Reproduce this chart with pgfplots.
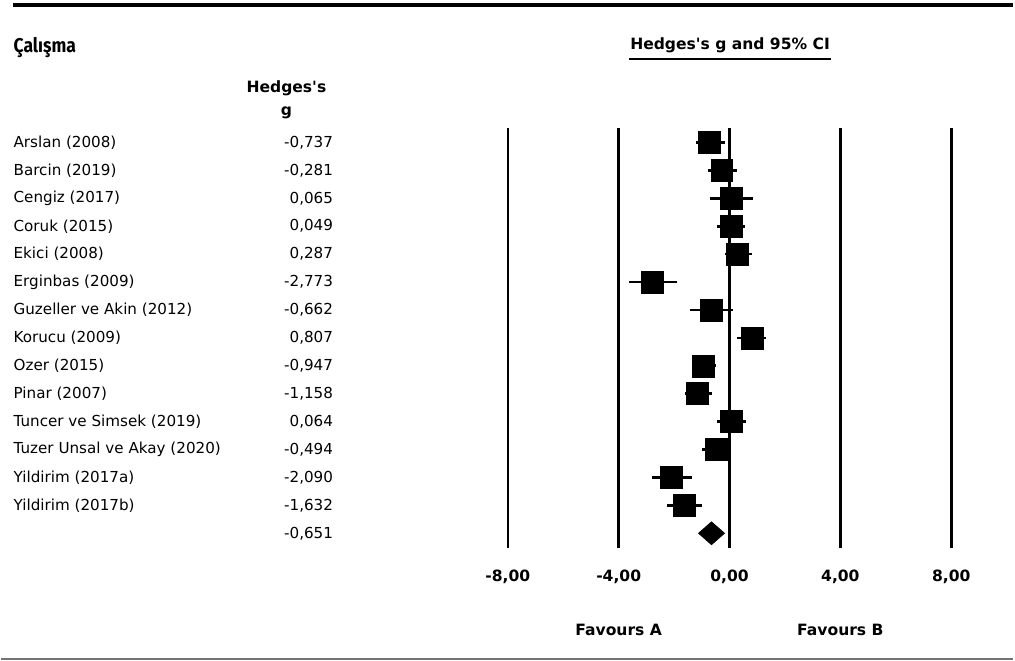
\documentclass[border=0pt]{standalone}
\usepackage{fontspec}
\setmainfont{DejaVu Sans}[Ligatures=TeXOff]
\newfontfamily\condfont[FakeStretch=0.88]{Fira Sans}
\usepackage{pgfplots}
\pgfplotsset{compat=1.18}
\usepackage{pgfplotstable}

\pgfplotstableread{
r g lo hi
1 -0.737 -1.20 -0.16
2 -0.281 -0.78 0.27
3 0.065 -0.70 0.84
4 0.049 -0.45 0.55
5 0.287 -0.16 0.81
6 -2.773 -3.61 -1.89
7 -0.662 -1.42 0.12
8 0.807 0.27 1.31
9 -0.947 -1.30 -0.49
10 -1.158 -1.60 -0.63
11 0.064 -0.45 0.59
12 -0.494 -0.99 -0.02
13 -2.090 -2.79 -1.35
14 -1.632 -2.25 -0.99
}\studies

\newcommand\rfont{\fontsize{11.4}{13}\selectfont}
\newcommand\bfont{\fontsize{11.7}{14}\selectfont\bfseries}

\begin{document}
\begin{tikzpicture}
\begin{axis}[
  x=20.85pt, y=21pt,
  xmin=-8, xmax=8, ymin=-15.54, ymax=-0.464,
  axis line style={draw=none}, clip=false,
  xtick={-8,-4,0,4,8},
  xticklabels={{-8,00},{-4,00},{0,00},{4,00},{8,00}},
  ytick=\empty,
  major tick length=0pt,
  xmajorgrids, grid style={black, line width=2pt},
  xticklabel style={anchor=center, yshift=-21.5pt, font=\bfont},
]
% confidence intervals
\addplot[black, only marks, mark=none,
  error bars/.cd, x dir=both, x explicit, error mark=none,
  error bar style={line width=2pt, black}]
  table[x=g, y expr=-\thisrow{r},
        x error plus expr=\thisrow{hi}-\thisrow{g},
        x error minus expr=\thisrow{g}-\thisrow{lo}] {\studies};
% point estimates
\addplot[black, only marks, mark=square*, mark size=8.25pt]
  table[x=g, y expr=-\thisrow{r}] {\studies};
% summary diamond
\addplot[black, fill=black, line width=0.5pt] coordinates
  {(-1.12,-15) (-0.651,-14.59) (-0.18,-15) (-0.651,-15.41)} -- cycle;

% study names
\begin{scope}[every node/.style={anchor=west, inner sep=0pt, font=\rfont}]
\node at (axis cs:-25.845,-1) {Arslan (2008)};
\node at (axis cs:-25.845,-2) {Barcin (2019)};
\node at (axis cs:-25.845,-3) {Cengiz (2017)};
\node at (axis cs:-25.845,-4) {Coruk (2015)};
\node at (axis cs:-25.845,-5) {Ekici (2008)};
\node at (axis cs:-25.845,-6) {Erginbas (2009)};
\node at (axis cs:-25.845,-7) {Guzeller ve Akin (2012)};
\node at (axis cs:-25.845,-8) {Korucu (2009)};
\node at (axis cs:-25.845,-9) {Ozer (2015)};
\node at (axis cs:-25.845,-10) {Pinar (2007)};
\node at (axis cs:-25.845,-11) {Tuncer ve Simsek (2019)};
\node at (axis cs:-25.845,-12) {Tuzer Unsal ve Akay (2020)};
\node at (axis cs:-25.845,-13) {Yildirim (2017a)};
\node at (axis cs:-25.845,-14) {Yildirim (2017b)};
\end{scope}
% values
\begin{scope}[every node/.style={anchor=east, inner sep=0pt, font=\rfont}]
\node at (axis cs:-14.30,-1) {-0,737};
\node at (axis cs:-14.30,-2) {-0,281};
\node at (axis cs:-14.30,-3) {0,065};
\node at (axis cs:-14.30,-4) {0,049};
\node at (axis cs:-14.30,-5) {0,287};
\node at (axis cs:-14.30,-6) {-2,773};
\node at (axis cs:-14.30,-7) {-0,662};
\node at (axis cs:-14.30,-8) {0,807};
\node at (axis cs:-14.30,-9) {-0,947};
\node at (axis cs:-14.30,-10) {-1,158};
\node at (axis cs:-14.30,-11) {0,064};
\node at (axis cs:-14.30,-12) {-0,494};
\node at (axis cs:-14.30,-13) {-2,090};
\node at (axis cs:-14.30,-14) {-1,632};
\node at (axis cs:-14.30,-15) {-0,651};
\end{scope}
% headers
\node[anchor=west, inner sep=0pt, font={\condfont\fontsize{15}{18}\selectfont\bfseries}] at (axis cs:-25.845,2.40) {Çalışma};
\node[inner sep=0pt, font=\bfont] at (axis cs:-15.99,0.93) {Hedges's};
\node[inner sep=0pt, font=\bfont] at (axis cs:-15.99,0.05) {g};
\node[inner sep=0pt, font=\bfont] at (axis cs:0.018,2.47) {Hedges's g and 95\% CI};
\draw[black, line width=1.2pt] (axis cs:-3.615,2.0) -- (axis cs:3.65,2.0);
\node[inner sep=0pt, font=\bfont] at (axis cs:-4,-18.45) {Favours A};
\node[inner sep=0pt, font=\bfont] at (axis cs:4,-18.45) {Favours B};
% rules
\draw[black, line width=3pt] (axis cs:-25.845,3.929) -- (axis cs:10.23,3.929);
\draw[black!55, line width=2pt] (axis cs:-26.28,-19.5) -- (axis cs:10.23,-19.5);
\coordinate (tl) at (axis cs:-26.28,4.107);
\coordinate (br) at (axis cs:10.23,-19.571);
\end{axis}
\path (tl) rectangle (br);
\end{tikzpicture}
\end{document}
